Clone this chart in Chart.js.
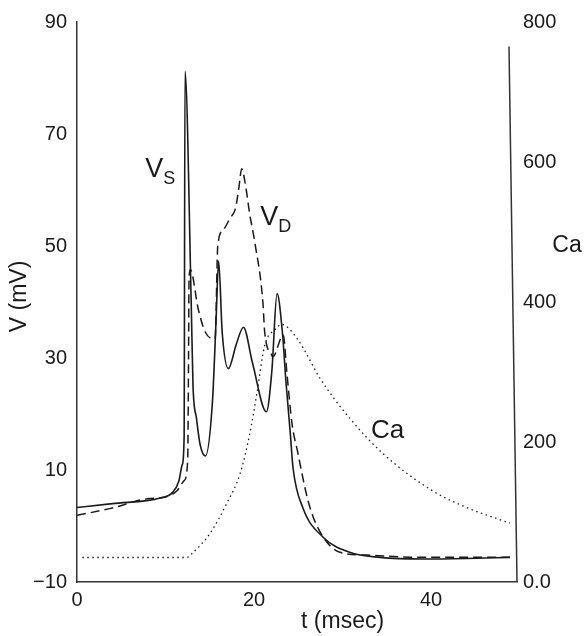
<!DOCTYPE html>
<html>
<head>
<meta charset="utf-8">
<script src="https://cdn.jsdelivr.net/npm/chart.js@4"></script>
<style>
  html, body { margin: 0; padding: 0; background: #fff; }
  #wrap { width: 584px; height: 636px; }
</style>
</head>
<body>
<div id="wrap"><canvas id="myChart" width="584" height="636"></canvas></div>
<script>
// soma voltage V_S (mV)
const tS = [0, 4, 9.4, 10.8, 11.5, 11.9, 12.1, 12.2, 12.9, 13.1, 13.5, 13.9, 14.5, 15.3, 15.7, 16.0, 16.4, 17.1, 18.0, 18.8, 19.8, 21.4, 22.0, 22.6, 23.2, 23.6, 24.1, 24.4, 25.5, 27.8, 30.8, 34.2, 39.1, 44, 48.9];
const vS = [3.3, 4.0, 5.0, 6.0, 8.0, 11.0, 16.0, 81.2, 40.0, 25.2, 19.2, 14.6, 12.5, 22.2, 36.4, 47.3, 34.6, 28.1, 32.5, 35.5, 29.3, 20.4, 27.5, 41.5, 34.6, 25.8, 16.4, 10.4, 3.3, -2.0, -4.7, -5.6, -5.9, -5.8, -5.6];

// dendrite voltage V_D (mV)
const tD = [0, 3.7, 8.2, 9.4, 11.3, 12.1, 12.5, 12.6, 12.65, 12.8, 13.7, 14.5, 15.6, 15.9, 16.5, 17.3, 17.9, 18.3, 18.6, 19.0, 19.5, 20.1, 21.0, 21.2, 22.0, 22.1, 23.3, 23.7, 24.3, 24.9, 26.1, 27.2, 29.7, 32.8, 39, 44, 48.9];
const vD = [1.9, 3.1, 4.9, 5.0, 6.3, 8.1, 11.6, 30, 44, 45.8, 38.7, 34.6, 33.4, 50.0, 52.8, 55.0, 56.7, 60.6, 63.8, 61.2, 55.8, 50.5, 39.9, 34.6, 30.5, 30.2, 34.1, 27.5, 18.1, 13.4, 4.5, -0.3, -4.7, -5.2, -5.6, -5.6, -5.6];

// calcium (right axis)
const tCa = [0.6, 6, 12.4, 13.1, 15.0, 16.9, 18.4, 19.5, 20.3, 21.2, 22.4, 23.1, 24.9, 27.5, 30.8, 34.6, 40.2, 44.1, 48.9];
const ca = [35, 35, 35, 42, 69, 112, 154, 211, 268, 338, 361, 368, 347, 290, 234, 183, 130, 106, 84];

const xTicks = [0, 20, 40];
const yTicks = [-10, 10, 30, 50, 70, 90];
const caTicks = [0, 200, 400, 600, 800];

const FONT = "'Liberation Sans', Arial, Helvetica, sans-serif";
const INK = '#1a1a1a';

function pts(xs, ys){
  return xs.map((x, i) => ({x: x, y: ys[i]}));
}

// titles, in-plot labels and the slanted right axis line
const extras = {
  id: 'extras',
  afterDraw(chart){
    const ctx = chart.ctx;
    const x = chart.scales.x, y = chart.scales.y, yr = chart.scales.yCa;
    const area = chart.chartArea;
    ctx.save();
    ctx.fillStyle = INK;
    ctx.strokeStyle = '#333';
    ctx.lineWidth = 1.5;

    // right axis line (drawn slightly slanted as in the figure)
    ctx.beginPath();
    ctx.moveTo(area.right - 8, yr.getPixelForValue(765));
    ctx.lineTo(area.right, area.bottom);
    ctx.stroke();

    function sub(main, s, tx, vy, big, small){
      const px = x.getPixelForValue(tx), py = y.getPixelForValue(vy);
      ctx.font = big + 'px ' + FONT;
      ctx.textAlign = 'left';
      ctx.textBaseline = 'alphabetic';
      ctx.fillText(main, px, py);
      if (s) {
        const w = ctx.measureText(main).width;
        ctx.font = small + 'px ' + FONT;
        ctx.fillText(s, px + w, py + 7);
      }
    }
    sub('V', 'S', 7.7, 62.4, 27, 18);
    sub('V', 'D', 20.7, 53.7, 27, 18);
    sub('Ca', '', 33.2, 15.7, 26, 0);

    // axis titles
    ctx.font = '23px ' + FONT;
    ctx.textAlign = 'center';
    ctx.textBaseline = 'middle';
    ctx.fillText('t (msec)', x.getPixelForValue(30), area.bottom + 40);
    ctx.fillText('Ca', 567, yr.getPixelForValue(480));
    ctx.translate(20, y.getPixelForValue(41));
    ctx.rotate(-Math.PI / 2);
    ctx.fillText('V (mV)', 0, 0);
    ctx.restore();
  }
};

const ctx = document.getElementById('myChart').getContext('2d');
new Chart(ctx, {
  type: 'line',
  data: {
    datasets: [
      {
        label: 'VS',
        data: pts(tS, vS),
        yAxisID: 'y',
        borderColor: INK,
        borderWidth: 1.6,
        pointRadius: 0,
        cubicInterpolationMode: 'monotone'
      },
      {
        label: 'VD',
        data: pts(tD, vD),
        yAxisID: 'y',
        borderColor: INK,
        borderWidth: 1.5,
        borderDash: [9, 5],
        pointRadius: 0,
        cubicInterpolationMode: 'monotone'
      },
      {
        label: 'Ca',
        data: pts(tCa, ca),
        yAxisID: 'yCa',
        borderColor: INK,
        borderWidth: 1.3,
        borderDash: [1.5, 3.5],
        pointRadius: 0,
        cubicInterpolationMode: 'monotone'
      }
    ]
  },
  options: {
    responsive: false,
    animation: false,
    layout: { padding: { top: 17, left: 0, right: 0, bottom: 0 } },
    plugins: { legend: { display: false }, tooltip: { enabled: false } },
    scales: {
      x: {
        type: 'linear',
        min: 0,
        max: 49.7,
        afterBuildTicks: s => { s.ticks = xTicks.map(v => ({value: v})); },
        afterFit: s => { s.height = 54; },
        grid: { display: false, drawTicks: false },
        border: { display: true, color: '#333', width: 1.5 },
        ticks: { color: INK, font: { family: FONT, size: 20 }, padding: 6, maxRotation: 0 }
      },
      y: {
        position: 'left',
        min: -10,
        max: 90,
        afterBuildTicks: s => { s.ticks = yTicks.map(v => ({value: v})); },
        afterFit: s => { s.width = 77; },
        grid: { display: false, drawTicks: false },
        border: { display: true, color: '#333', width: 1.5 },
        ticks: {
          color: INK, font: { family: FONT, size: 20 }, padding: 10,
          callback: v => v < 0 ? '\u2212' + Math.abs(v) : '' + v
        }
      },
      yCa: {
        position: 'right',
        min: 0,
        max: 800,
        afterBuildTicks: s => { s.ticks = caTicks.map(v => ({value: v})); },
        afterFit: s => { s.width = 67; },
        grid: { display: false, drawTicks: false },
        border: { display: false },
        ticks: {
          color: INK, font: { family: FONT, size: 20 }, padding: 6,
          callback: v => v === 0 ? '0.0' : '' + v
        }
      }
    }
  },
  plugins: [extras]
});
</script>
</body>
</html>
